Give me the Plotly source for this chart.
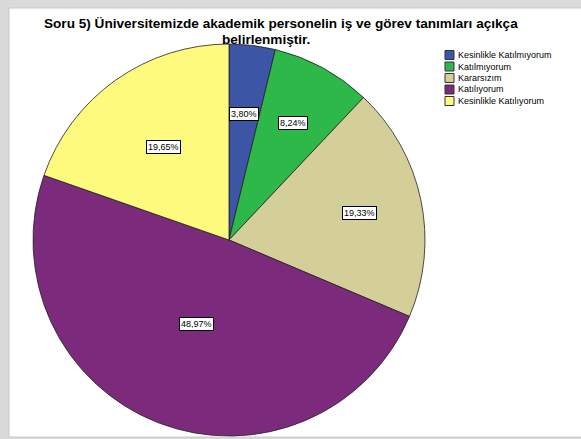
import numpy as np
import plotly.graph_objects as go

# data
labels = ["Kesinlikle Katılmıyorum", "Katılmıyorum", "Kararsızım",
          "Katılıyorum", "Kesinlikle Katılıyorum"]
percent = [3.80, 8.24, 19.33, 48.97, 19.65]
colors = ["#3d55a5", "#2fb84a", "#d4cf98", "#7c2a7c", "#fdfa7d"]

W, H = 581, 439
cx, cy, R = 229, 240, 196   # pie centre / radius in pixels

fig = go.Figure()
fig.add_trace(go.Pie(
    labels=labels, values=percent, sort=False, direction="clockwise",
    rotation=0, textinfo="none", hoverinfo="label+percent",
    marker=dict(colors=colors, line=dict(color="#222222", width=0.8)),
    domain=dict(x=[(cx - R) / W, (cx + R) / W],
                y=[1 - (cy + R) / H, 1 - (cy - R) / H]),
    showlegend=False,
))

# value labels in white boxes, placed at the middle angle of each slice
label_r = [0.65, 0.68, 0.68, 0.46, 0.58]
vals = np.array(percent)
mid = (np.cumsum(vals) - vals / 2) / vals.sum() * 2 * np.pi
annotations = []
for v, a, rf in zip(percent, mid, label_r):
    px = cx + rf * R * np.sin(a)
    py = cy - rf * R * np.cos(a)
    annotations.append(dict(
        x=px / W, y=1 - py / H, xref="paper", yref="paper",
        xanchor="center", yanchor="middle",
        text=f"{v:.2f}%".replace(".", ","), showarrow=False,
        font=dict(size=9, color="black"),
        bgcolor="white", bordercolor="black", borderwidth=1, borderpad=1))

# title, two lines
title_lines = ["Soru 5) Üniversitemizde akademik personelin iş ve görev tanımları açıkça",
               "belirlenmiştir."]
for j, line in enumerate(title_lines):
    annotations.append(dict(x=[281, 266][j] / W, y=1 - (23.5 + 16 * j) / H,
                            xref="paper", yref="paper", xanchor="center", yanchor="middle",
                            text=f"<b>{line}</b>", showarrow=False, borderpad=0,
                            font=dict(size=13.6, color="black")))

# white panel + legend
shapes = [dict(type="rect", xref="paper", yref="paper", x0=9 / W, x1=1.01,
               y0=1 - 437 / H, y1=1 - 8 / H, fillcolor="white",
               line=dict(color="#c8c8c8", width=1), layer="below")]
for i, (lab, col) in enumerate(zip(labels, colors)):
    ly = 55 + i * 11.5
    shapes.append(dict(type="rect", xref="paper", yref="paper",
                       x0=445 / W, x1=454 / W, y0=1 - (ly + 4.5) / H, y1=1 - (ly - 4.5) / H,
                       fillcolor=col, line=dict(color="#333333", width=1)))
    annotations.append(dict(x=456 / W, y=1 - ly / H, xref="paper", yref="paper",
                            xanchor="left", yanchor="middle", text=lab, showarrow=False,
                            font=dict(size=9, color="black")))

fig.update_layout(
    width=W, height=H, margin=dict(l=0, r=0, t=0, b=0),
    paper_bgcolor="#dadada", plot_bgcolor="white",
    font=dict(family="Liberation Sans, Arial, sans-serif"),
    shapes=shapes, annotations=annotations,
)
fig.write_html("out.html", config={"displayModeBar": False},
               post_script="document.body.style.margin='0';document.body.style.overflow='hidden';")
